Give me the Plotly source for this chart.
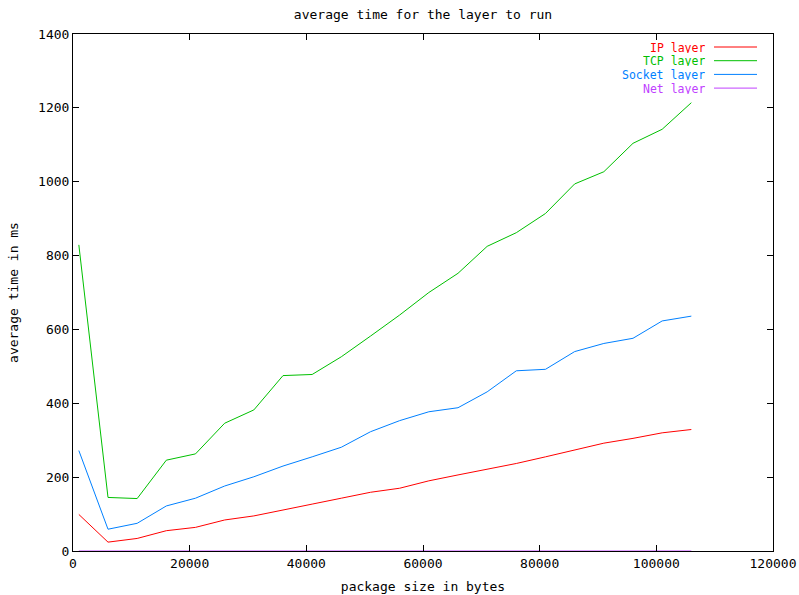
import plotly.graph_objects as go

package_size = [1000, 6000, 11000, 16000, 21000, 26000, 31000, 36000, 41000, 46000, 51000,
                56000, 61000, 66000, 71000, 76000, 81000, 86000, 91000, 96000, 101000, 106000]
ip_layer = [99, 24, 34, 55, 64, 84, 95, 112, 127, 143, 159,
            170, 190, 206, 221, 237, 255, 273, 292, 305, 320, 329]
tcp_layer = [829, 145, 142, 246, 263, 346, 382, 475, 478, 526, 582,
             639, 700, 752, 825, 862, 914, 994, 1027, 1104, 1142, 1214]
socket_layer = [272, 59, 75, 122, 143, 176, 201, 230, 255, 281, 323,
                353, 377, 388, 431, 488, 492, 540, 562, 576, 623, 636]
net_layer = [0] * 22

series = [
    ("IP layer", ip_layer, "#ff0000"),
    ("TCP layer", tcp_layer, "#00c000"),
    ("Socket layer", socket_layer, "#0080ff"),
    ("Net layer", net_layer, "#c040ff"),
]

FONT = "DejaVu Sans Mono"
W, H = 799, 595
ML, MR, MT, MB = 73, 26, 34, 44

fig = go.Figure()
for name, vals, col in series:
    fig.add_trace(go.Scatter(x=package_size, y=vals, mode="lines", name=name,
                             line=dict(color=col, width=1), showlegend=False))

# legend drawn gnuplot-style: right-aligned text then line sample
annotations = []
shapes = []
pw = W - ML - MR
ph = H - MT - MB
for i, (name, vals, col) in enumerate(series):
    ypix = 47 + i * 13.7
    yp = 1 - (ypix - MT) / ph
    x_text = (706 - ML) / pw
    annotations.append(dict(x=x_text, y=yp, xref="paper", yref="paper", text=name,
                            showarrow=False, xanchor="right", yanchor="middle",
                            height=11, borderpad=0,
                            font=dict(family=FONT, size=11.5, color=col)))
    shapes.append(dict(type="line", xref="paper", yref="paper",
                       x0=(714 - ML) / pw, x1=(757 - ML) / pw, y0=yp, y1=yp,
                       line=dict(color=col, width=1)))

fig.update_layout(
    width=W, height=H,
    margin=dict(l=ML, r=MR, t=MT, b=MB, autoexpand=False),
    paper_bgcolor="white", plot_bgcolor="white",
    font=dict(family=FONT, size=13, color="#000"),
    title=dict(text="average time for the layer to run", x=(ML + pw / 2) / W, xanchor="center",
               y=1 - 14 / H, yanchor="middle", yref="container",
               font=dict(family=FONT, size=13, color="#000")),
    xaxis=dict(range=[0, 120000], tickvals=[0, 20000, 40000, 60000, 80000, 100000, 120000],
               ticktext=["0", "20000", "40000", "60000", "80000", "100000", "120000"],
               ticks="inside", ticklen=6, tickcolor="#000", mirror="ticks", automargin=False,
               showline=True, linecolor="#000", linewidth=1, showgrid=False, zeroline=False,
               title=dict(text="package size in bytes", standoff=12,
                          font=dict(family=FONT, size=13))),
    yaxis=dict(range=[0, 1400], tickvals=list(range(0, 1401, 200)),
               ticks="inside", ticklen=6, tickcolor="#000", mirror="ticks", automargin=False,
               showline=True, linecolor="#000", linewidth=1, showgrid=False, zeroline=False,
               title=dict(text="average time in ms", standoff=16,
                          font=dict(family=FONT, size=13))),
    annotations=annotations,
    shapes=shapes,
)

fig.write_html("out.html")
